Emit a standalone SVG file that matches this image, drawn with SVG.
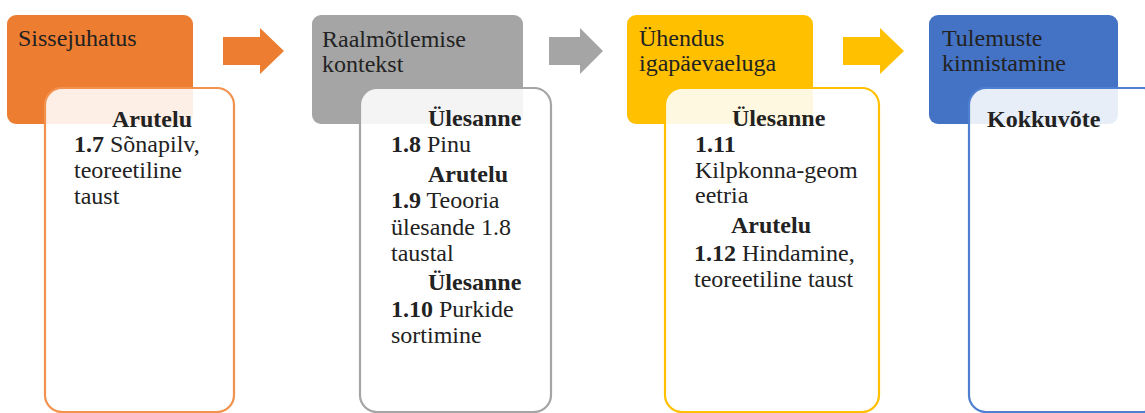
<svg xmlns="http://www.w3.org/2000/svg" width="1145" height="413" viewBox="0 0 1145 413">
  <style>
    .hdr { stroke: none; }
    .card { fill: #ffffff; fill-opacity: 0.88; stroke-width: 2.2; }
    text { font-family: "Liberation Serif", "Times New Roman", serif; font-size: 24px; fill: #222222; }
    .b { font-weight: bold; }
  </style>
  <rect width="1145" height="413" fill="#ffffff"/>

  <!-- connectors: block arrows between stages -->
  <g id="connectors">
    <polygon points="223,37 260,37 260,28 284,51 260,74 260,65 223,65" fill="#ED7D31"/>
    <polygon points="549,37 580,37 580,28 603,51 580,74 580,65 549,65" fill="#A5A5A5"/>
    <polygon points="843,37 880,37 880,28 904,51 880,74 880,65 843,65" fill="#FFC000"/>
  </g>

  <!-- stage 1 -->
  <g id="stage-intro">
    <rect class="hdr" x="7" y="15" width="186" height="109" rx="9" fill="#ED7D31"/>
    <text x="18" y="46">Sissejuhatus</text>
    <rect class="card" x="45" y="88" width="189" height="324" rx="17" stroke="#F2924F"/>
    <text class="b" x="112" y="127">Arutelu</text>
    <text x="74" y="152"><tspan class="b">1.7</tspan> Sõnapilv,</text>
    <text x="74" y="178">teoreetiline</text>
    <text x="74" y="204">taust</text>
  </g>

  <!-- stage 2 -->
  <g id="stage-context">
    <rect class="hdr" x="312" y="15" width="211" height="109" rx="9" fill="#A5A5A5"/>
    <text x="322" y="47">Raalmõtlemise</text>
    <text x="322" y="72">kontekst</text>
    <rect class="card" x="360" y="88" width="191" height="324" rx="17" stroke="#A5A5A5"/>
    <text class="b" x="428" y="126">Ülesanne</text>
    <text x="391" y="152"><tspan class="b">1.8</tspan> Pinu</text>
    <text class="b" x="428" y="182">Arutelu</text>
    <text x="391" y="208"><tspan class="b">1.9</tspan> Teooria</text>
    <text x="391" y="235">ülesande 1.8</text>
    <text x="391" y="261">taustal</text>
    <text class="b" x="428" y="290">Ülesanne</text>
    <text x="391" y="317"><tspan class="b">1.10</tspan> Purkide</text>
    <text x="391" y="343">sortimine</text>
  </g>

  <!-- stage 3 -->
  <g id="stage-everyday">
    <rect class="hdr" x="627" y="15" width="186" height="109" rx="9" fill="#FFC000"/>
    <text x="639" y="46">Ühendus</text>
    <text x="639" y="71">igapäevaeluga</text>
    <rect class="card" x="665" y="88" width="214" height="324" rx="17" stroke="#FFC000"/>
    <text class="b" x="732" y="126">Ülesanne</text>
    <text class="b" x="695" y="152">1.11</text>
    <text x="695" y="178">Kilpkonna-geom</text>
    <text x="695" y="203">eetria</text>
    <text class="b" x="731" y="233">Arutelu</text>
    <text x="694" y="261"><tspan class="b">1.12</tspan> Hindamine,</text>
    <text x="694" y="287">teoreetiline taust</text>
  </g>

  <!-- stage 4 -->
  <g id="stage-consolidation">
    <rect class="hdr" x="929" y="15" width="189" height="109" rx="9" fill="#4472C4"/>
    <text x="942" y="46">Tulemuste</text>
    <text x="942" y="71">kinnistamine</text>
    <rect class="card" x="969" y="88" width="191" height="324" rx="17" stroke="#4F7FD0"/>
    <text class="b" x="987" y="127">Kokkuvõte</text>
  </g>
</svg>
